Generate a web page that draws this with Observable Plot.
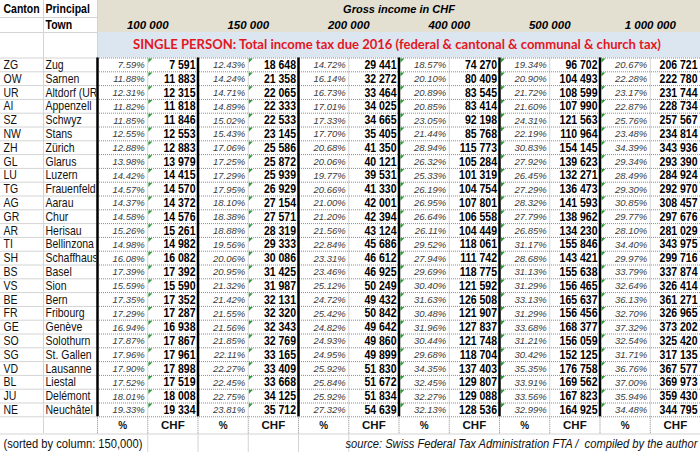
<!DOCTYPE html>
<html><head><meta charset="utf-8">
<script src="https://cdn.jsdelivr.net/npm/d3@7"></script>
<script src="https://cdn.jsdelivr.net/npm/@observablehq/plot@0.6"></script>
<style>body{margin:0;background:#fff} svg{display:block}</style>
</head><body><div id="chart"></div>
<script>
// ---------------- DATA ----------------
const cantons = ["ZG","OW","UR","AI","SZ","NW","ZH","GL","LU","TG","AG","GR","AR","TI","SH","BS","VS","BE","FR","GE","SO","SG","VD","BL","JU","NE"];
const towns = ["Zug","Sarnen","Altdorf (UR)","Appenzell","Schwyz","Stans","Zürich","Glarus","Luzern","Frauenfeld","Aarau","Chur","Herisau","Bellinzona","Schaffhausen","Basel","Sion","Bern","Fribourg","Genève","Solothurn","St. Gallen","Lausanne","Liestal","Delémont","Neuchâtel"];
const incomeLevels = ["100 000","150 000","200 000","400 000","500 000","1 000 000"];
const rate100k = [7.59,11.88,12.31,11.82,11.85,12.55,12.88,13.98,14.42,14.57,14.37,14.58,15.26,14.98,16.08,17.39,15.59,17.35,17.29,16.94,17.87,17.96,17.90,17.52,18.01,19.33];
const tax100k = [7591,11883,12315,11818,11846,12553,12883,13979,14415,14570,14372,14576,15261,14982,16082,17392,15590,17352,17287,16938,17867,17961,17898,17519,18008,19334];
const rate150k = [12.43,14.24,14.71,14.89,15.02,15.43,17.06,17.25,17.29,17.95,18.10,18.38,18.88,19.56,20.06,20.95,21.32,21.42,21.55,21.56,21.85,22.11,22.27,22.45,22.75,23.81];
const tax150k = [18648,21358,22065,22333,22533,23145,25586,25872,25939,26929,27154,27571,28319,29333,30086,31425,31987,32131,32320,32343,32769,33165,33409,33668,34125,35712];
const rate200k = [14.72,16.14,16.73,17.01,17.33,17.70,20.68,20.06,19.77,20.66,21.00,21.20,21.56,22.84,23.31,23.46,25.12,24.72,25.42,24.82,24.93,24.95,25.92,25.84,25.92,27.32];
const tax200k = [29441,32272,33464,34025,34665,35405,41350,40121,39531,41330,42001,42394,43124,45686,46612,46925,50249,49432,50842,49642,49860,49899,51830,51672,51834,54639];
const rate400k = [18.57,20.10,20.89,20.85,23.05,21.44,28.94,26.32,25.33,26.19,26.95,26.64,26.11,29.52,27.94,29.69,30.40,31.63,30.48,31.96,30.44,29.68,34.35,32.45,32.27,32.13];
const tax400k = [74270,80409,83545,83414,92198,85768,115773,105284,101319,104754,107801,106558,104449,118061,111742,118775,121592,126508,121907,127837,121748,118704,137403,129807,129088,128536];
const rate500k = [19.34,20.90,21.72,21.60,24.31,22.19,30.83,27.92,26.45,27.29,28.32,27.79,26.85,31.17,28.68,31.13,31.29,33.13,31.29,33.68,31.21,30.42,35.35,33.91,33.56,32.99];
const tax500k = [96702,104493,108599,107990,121563,110964,154145,139623,132271,136473,141593,138962,134230,155846,143421,155638,156465,165637,156456,168377,156059,152125,176758,169562,167823,164925];
const rate1m = [20.67,22.28,23.17,22.87,25.76,23.48,34.39,29.34,28.49,29.30,30.85,29.77,28.10,34.40,29.97,33.79,32.64,36.13,32.70,37.32,32.54,31.71,36.76,37.00,35.94,34.48];
const tax1m = [206721,222780,231744,228734,257567,234814,343936,293390,284924,292970,308457,297676,281029,343975,299716,337874,326414,361271,326965,373202,325420,317135,367577,369973,359430,344795];
const rateSeries = [rate100k, rate150k, rate200k, rate400k, rate500k, rate1m];
const taxSeries = [tax100k, tax150k, tax200k, tax400k, tax500k, tax1m];
const unitLabels = ["%","CHF"];
const headerCanton = "Canton", headerTown1 = "Principal", headerTown2 = "Town";
const headerIncome = "Gross income in CHF";
const titleText = "SINGLE PERSON: Total income tax due 2016 (federal & cantonal & communal & church tax)";
const noteText = "(sorted by column: 150,000)";
const sourceText = "source: Swiss Federal Tax Administration FTA /  compiled by the author";

// ---------------- LAYOUT ----------------
const W = 700, H = 452;
const townLeft = 43, dataLeft = 97, nCols = 12, colW = (W - dataLeft) / nCols;
const xL = k => dataLeft + k * colW;
const hdr = [0, 17, 32, 57.5];
const rowTop = 57.5, rowH = 13.8;
const yT = i => rowTop + i * rowH;
const nRows = cantons.length;
const dataBottom = yT(nRows);
const unitsBottom = dataBottom + 17.2;
const SANS = "'Liberation Sans',Arial,sans-serif";
const NARROW_FACTOR = 0.84;   // emulate a narrow face by horizontal compression
const fmtNum = v => d3.format(",")(v).replace(/,/g, " ");
const fmtPct = v => v.toFixed(2) + "%";

const rows = cantons.map((c, i) => ({i, canton: c, town: towns[i]}));
const pctCells = [], chfCells = [];
rateSeries.forEach((s, j) => s.forEach((v, i) => pctCells.push({i, col: 2*j, text: fmtPct(v)})));
taxSeries.forEach((s, j) => s.forEach((v, i) => chfCells.push({i, col: 2*j+1, text: fmtNum(v)})));
const units = d3.range(nCols).map(k => ({col: k, text: unitLabels[k % 2]}));
const incomes = incomeLevels.map((t, j) => ({j, text: t}));

function fitSize(text, font, size, target) {
  const ctx = document.createElement("canvas").getContext("2d");
  ctx.font = `bold ${size}px ${font}`;
  return size * target / ctx.measureText(text).width;
}
const titleFont = "Lato,'Open Sans',sans-serif";
const titleSize = fitSize(titleText, titleFont, 13, 529);

const hLabel = [hdr[1], hdr[2], hdr[3], ...d3.range(1, nRows + 1).map(yT), unitsBottom];
const hDotted = d3.range(0, nRows + 1).map(yT);
const thick = d3.range(0, 6).map(j => xL(2*j));
const midV = d3.range(0, 6).map(j => xL(2*j + 1));
const unitV = d3.range(0, nCols).map(xL);
const noteV = [1, 2, 3, 4, 5].map(xL);
const triCols = [1, 3, 6, 8, 10];
const tris = [];
triCols.forEach(c => d3.range(nRows).forEach(i => tris.push({c, i})));
const corner = {draw(ctx, size) { const s = Math.sqrt(size); ctx.moveTo(0, 0); ctx.lineTo(s, 0); ctx.lineTo(0, s); ctx.closePath(); }};

const grey = "#d4d4d4";
const narrowText = {fontFamily: SANS, fontSize: 12.5, fill: "#111", ariaLabel: () => "narrow"};
const svg = Plot.plot({
  width: W, height: H, margin: 0,
  x: {domain: [0, W], range: [0, W], axis: null},
  y: {domain: [0, H], range: [0, H], axis: null},
  style: {background: "#fff"},
  marks: [
    Plot.rect([0], {x1: dataLeft, x2: W, y1: hdr[0], y2: hdr[2], fill: "#e3dfd1"}),
    Plot.rect([0], {x1: dataLeft, x2: W, y1: hdr[2], y2: hdr[3], fill: "#dce6f1"}),
    Plot.ruleY(hLabel, {y: d => d, x1: 0, x2: dataLeft, stroke: grey, strokeWidth: 1}),
    Plot.ruleX([townLeft], {x: d => d, y1: 0, y2: unitsBottom, stroke: grey}),
    Plot.ruleX([dataLeft], {x: d => d, y1: 0, y2: hdr[3], stroke: grey}),
    Plot.ruleY([unitsBottom], {y: d => d, x1: dataLeft, x2: W, stroke: grey}),
    Plot.ruleX(midV, {x: d => d, y1: rowTop, y2: dataBottom, stroke: grey}),
    Plot.ruleY(hDotted, {y: d => d, x1: dataLeft, x2: W, stroke: "#8a8a8a", strokeDasharray: "1,1", strokeWidth: 1}),
    Plot.ruleX(unitV, {x: d => d, y1: dataBottom, y2: unitsBottom, stroke: "#8a8a8a", strokeDasharray: "1,1"}),
    Plot.ruleX(noteV, {x: d => d, y1: unitsBottom, y2: H, stroke: grey}),
    Plot.ruleX(thick, {x: d => d, y1: rowTop, y2: dataBottom, stroke: "#000", strokeWidth: 2.5}),
    Plot.dot(tris, {x: d => xL(d.c) + (d.c >= 6 ? 1.4 : 0.6), y: d => yT(d.i) + 0.6, symbol: corner, r: 2.3, fill: "#2e9a3a", stroke: "none"}),
    // headers
    Plot.text([headerCanton], {...narrowText, x: 3, y: (hdr[0]+hdr[1])/2, text: d => d, textAnchor: "start", fontWeight: "bold", fill: "#000"}),
    Plot.text([headerTown1], {...narrowText, x: townLeft + 2, y: (hdr[0]+hdr[1])/2, text: d => d, textAnchor: "start", fontWeight: "bold", fill: "#000"}),
    Plot.text([headerTown2], {...narrowText, x: townLeft + 2, y: (hdr[1]+hdr[2])/2, text: d => d, textAnchor: "start", fontWeight: "bold", fill: "#000"}),
    Plot.text([headerIncome], {x: (dataLeft + W)/2, y: (hdr[0]+hdr[1])/2, text: d => d, fontFamily: SANS, fontWeight: "bold", fontStyle: "italic", fontSize: 11, fill: "#000"}),
    Plot.text(incomes, {x: d => xL(2*d.j + 1), y: (hdr[1]+hdr[2])/2, text: "text", fontFamily: SANS, fontWeight: "bold", fontStyle: "italic", fontSize: 11.5, fill: "#000"}),
    Plot.text([titleText], {x: (dataLeft + W)/2 - 2, y: (hdr[2]+hdr[3])/2, text: d => d, fontFamily: titleFont, fontWeight: "bold", fontSize: titleSize, fill: "#e3161f"}),
    // row labels
    Plot.text(rows, {...narrowText, x: 3, y: d => yT(d.i) + rowH/2, text: "canton", textAnchor: "start"}),
    Plot.text(rows, {...narrowText, x: townLeft + 2, y: d => yT(d.i) + rowH/2, text: "town", textAnchor: "start", ariaLabel: () => "town"}),
    // values
    Plot.text(pctCells, {x: d => xL(d.col + 1) - 3, y: d => yT(d.i) + rowH/2 + 0.5, text: "text", textAnchor: "end", fontFamily: SANS, fontStyle: "italic", fontSize: 9.5, fill: "#3a3a3a"}),
    Plot.text(chfCells, {...narrowText, x: d => xL(d.col + 1) - (d.col === nCols - 1 ? 3 : 2.5), y: d => yT(d.i) + rowH/2, text: "text", textAnchor: "end", fontWeight: "bold", fill: "#000"}),
    // units row
    Plot.text(units, {x: d => xL(d.col) + colW/2, y: (dataBottom + unitsBottom)/2, text: "text", fontFamily: SANS, fontWeight: "bold", fontSize: d => d.text === "%" ? 10 : 11.5, fill: "#111"}),
    // note row
    Plot.text([noteText], {...narrowText, x: 3, y: (unitsBottom + H)/2, text: d => d, textAnchor: "start", fontSize: 13.3}),
    Plot.text([sourceText], {...narrowText, x: W - 3, y: (unitsBottom + H)/2, text: d => d, textAnchor: "end", fontStyle: "italic", fontSize: 13.3})
  ]
});
document.getElementById("chart").appendChild(svg);
// emulate a narrow typeface: compress selected texts horizontally about their anchor point
d3.select(svg).selectAll('text[aria-label="narrow"], text[aria-label="town"]').each(function() {
  const x = +this.getAttribute("x") || 0;
  const prev = this.getAttribute("transform") || "";
  this.setAttribute("transform", `${prev} translate(${x},0) scale(${NARROW_FACTOR},1) translate(${-x},0)`.trim());
});
// clip town names to their column
const sx = svg.scale("x");
const townNode = d3.select(svg).select('text[aria-label="town"]').node();
if (townNode) {
  d3.select(svg).append("defs").append("clipPath").attr("id", "townclip").append("rect")
    .attr("x", sx.apply(townLeft)).attr("y", 0).attr("width", sx.apply(dataLeft) - sx.apply(townLeft) - 1.5).attr("height", H);
  d3.select(townNode.parentNode).attr("clip-path", "url(#townclip)");
}
</script>
</body></html>
